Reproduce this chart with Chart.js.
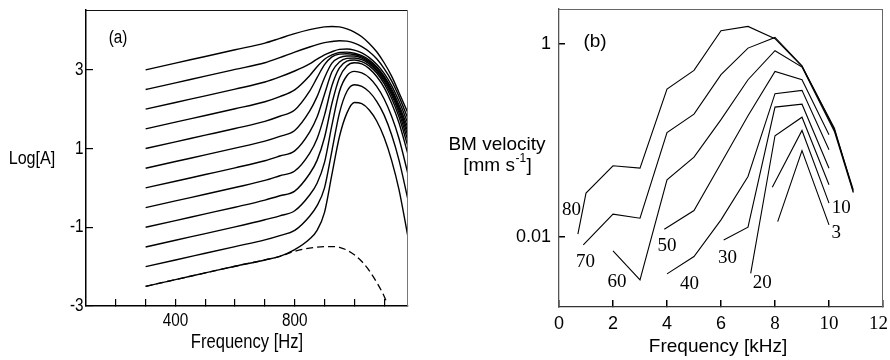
<!DOCTYPE html>
<html><head><meta charset="utf-8">
<script src="https://cdn.jsdelivr.net/npm/chart.js@4/dist/chart.umd.min.js"></script>
<style>
html,body{margin:0;padding:0;background:#fff;}
#wrap{position:relative;width:890px;height:360px;overflow:hidden;}
#ca{position:absolute;left:0;top:0;}
#cb{position:absolute;left:440px;top:0;}
</style></head><body>
<div id="wrap">
<canvas id="ca" width="440" height="360"></canvas>
<canvas id="cb" width="450" height="360"></canvas>
</div>
<script>
// ---------- Panel (a): Log[A] vs Frequency [Hz] ----------
const aFreq = [300,400,500,600,700,750,800,850,875,900,925,950,975,1000,1025,1050,1075,1100,1125,1150,1180];
const aLine0  = [3.00,3.17,3.34,3.51,3.68,3.80,3.92,4.02,4.06,4.09,4.10,4.09,4.04,3.96,3.84,3.67,3.46,3.18,2.84,2.42,1.90];
const aLine1  = [2.50,2.67,2.84,3.01,3.18,3.31,3.45,3.58,3.64,3.69,3.72,3.74,3.73,3.68,3.59,3.46,3.28,3.03,2.72,2.32,1.76];
const aLine2  = [2.00,2.17,2.34,2.51,2.69,2.82,2.97,3.15,3.27,3.38,3.46,3.52,3.53,3.50,3.43,3.31,3.14,2.91,2.60,2.20,1.64];
const aLine3  = [1.50,1.67,1.84,2.01,2.19,2.32,2.49,2.85,3.08,3.27,3.38,3.44,3.45,3.42,3.36,3.25,3.08,2.84,2.52,2.10,1.52];
const aLine4  = [1.00,1.17,1.34,1.51,1.69,1.82,1.98,2.46,2.80,3.13,3.33,3.40,3.41,3.39,3.33,3.22,3.05,2.80,2.47,2.04,1.42];
const aLine5  = [0.50,0.67,0.84,1.01,1.19,1.31,1.46,1.95,2.32,2.80,3.17,3.31,3.35,3.35,3.30,3.19,3.01,2.76,2.42,1.98,1.32];
const aLine6  = [0.00,0.17,0.34,0.51,0.69,0.81,0.94,1.42,1.80,2.38,2.95,3.20,3.29,3.30,3.26,3.15,2.97,2.71,2.36,1.90,1.20];
const aLine7  = [-0.50,-0.33,-0.16,0.01,0.19,0.31,0.43,0.88,1.25,1.85,2.60,3.05,3.22,3.25,3.21,3.10,2.92,2.65,2.28,1.80,1.05];
const aLine8  = [-1.00,-0.83,-0.66,-0.49,-0.31,-0.20,-0.08,0.36,0.70,1.28,2.15,2.80,3.10,3.18,3.15,3.03,2.83,2.55,2.15,1.65,0.85];
const aLine9  = [-1.50,-1.33,-1.16,-0.99,-0.81,-0.71,-0.58,-0.18,0.12,0.65,1.60,2.45,2.85,2.96,2.92,2.80,2.58,2.26,1.82,1.25,0.35];
const aLine10 = [-2.00,-1.83,-1.66,-1.49,-1.32,-1.21,-1.08,-0.72,-0.45,0.00,0.95,1.90,2.45,2.62,2.58,2.44,2.20,1.85,1.35,0.70,-0.30];
const aLine11 = [-2.50,-2.33,-2.16,-1.99,-1.83,-1.74,-1.57,-1.30,-1.08,-0.62,0.35,1.30,1.90,2.17,2.14,1.98,1.70,1.28,0.70,-0.05,-1.25];
const aDashFreq = [300,400,500,600,700,750,800,850,900,925,950,975,1000,1025,1050,1075,1100,1110];
const aDash     = [-2.50,-2.33,-2.16,-1.99,-1.83,-1.74,-1.61,-1.53,-1.49,-1.49,-1.51,-1.58,-1.70,-1.87,-2.10,-2.40,-2.75,-2.93];
const aXTickPos = [200,300,400,500,600,700,800,900,1000,1100];
const aXTickLabels = [400, 800];
const aYTicks = [-3,-1,1,3];

// ---------- Panel (b): BM velocity vs Frequency [kHz] ----------
const bLevels = ['80','70','60','50','40','30','20','10','3'];
const bF80 = [0.7,1,2,3,4,5,6,7,8,9,10.2,10.9];
const bV80 = [0.0106,0.0282,0.0542,0.0512,0.338,0.529,1.365,1.51,1.127,0.582,0.133,0.0293];
const bF70 = [0.9,2,3,4,5,6,7,8,9,10.2,10.9];
const bV70 = [0.0082,0.0171,0.0155,0.120,0.186,0.477,0.90,1.16,0.591,0.128,0.0305];
const bF60 = [2,3,4,5,6,7,8,9,10.2,10.9];
const bV60 = [0.0071,0.00355,0.0387,0.0666,0.163,0.423,0.846,0.573,0.123,0.0286];
const bF50 = [3.9,5,6,7,8,9,10];
const bV50 = [0.0119,0.0186,0.0577,0.179,0.516,0.423,0.1136];
const bF40 = [4,5,6,7,8,9,10];
const bV40 = [0.0041,0.0062,0.0149,0.042,0.303,0.328,0.0794];
const bF30 = [6.1,7,8,9,10];
const bV30 = [0.00923,0.0125,0.220,0.236,0.0512];
const bF20 = [7.1,8,9,10];
const bV20 = [0.00416,0.111,0.173,0.0344];
const bF10 = [7.9,9,10];
const bV10 = [0.0325,0.126,0.0222];
const bF3  = [8.1,9,10];
const bV3  = [0.0143,0.078,0.0132];
// where each level label sits (kHz, mm/s)
const bLabelF = [0.46,0.98,2.15,4.0,4.83,6.24,7.53,10.45,10.27];
const bLabelV = [0.0189,0.0055,0.0034,0.0079,0.0032,0.0060,0.0033,0.0197,0.011];
const bXTicks = [0,2,4,6,8,10,12];
const bYTicks = [0.01,1];

// ---------- helpers ----------
const SANS = "'Liberation Sans', Arial, sans-serif";
const SERIF = "'Liberation Serif', 'Times New Roman', serif";
const pts = (xs, ys) => xs.map((x, i) => ({x: x, y: ys[i]}));
const noPad = s => { s.paddingTop = 0; s.paddingBottom = 0; s.paddingLeft = 0; s.paddingRight = 0; };
function narrowText(ctx, str, x, y, align, size, sx) {
  ctx.save();
  ctx.translate(x, y); ctx.scale(sx, 1);
  ctx.textAlign = align; ctx.textBaseline = 'middle';
  ctx.font = size + "px " + SANS;
  ctx.fillText(str, 0, 0);
  ctx.restore();
}

const framePlugin = {
  id: 'frame',
  afterDraw(chart, args, o) {
    const {ctx, chartArea: a} = chart;
    ctx.save();
    ctx.lineWidth = 1;
    ctx.strokeStyle = o.top;
    ctx.beginPath(); ctx.moveTo(a.left, a.top + 0.5); ctx.lineTo(a.right, a.top + 0.5); ctx.stroke();
    ctx.strokeStyle = o.right;
    ctx.beginPath(); ctx.moveTo(a.right - 0.5, a.top); ctx.lineTo(a.right - 0.5, a.bottom); ctx.stroke();
    ctx.restore();
  }
};

// ---------- chart (a) ----------
const aLines = [aLine0,aLine1,aLine2,aLine3,aLine4,aLine5,aLine6,aLine7,aLine8,aLine9,aLine10,aLine11];
const aSets = aLines.map(l => ({
  data: pts(aFreq, l), borderColor: '#000', borderWidth: 1.4,
  cubicInterpolationMode: 'monotone', pointRadius: 0, fill: false
}));
aSets.push({data: pts(aDashFreq, aDash), borderColor: '#000', borderWidth: 1.3,
  borderDash: [7, 4], cubicInterpolationMode: 'monotone', pointRadius: 0, fill: false});

const textA = {
  id: 'textA',
  afterDraw(chart) {
    const ctx = chart.ctx;
    const sx = chart.scales.x, sy = chart.scales.y;
    ctx.save();
    ctx.fillStyle = '#000';
    aXTickLabels.forEach(v => narrowText(ctx, String(v), sx.getPixelForValue(v), 321, 'center', 18, 0.85));
    aYTicks.forEach(v => narrowText(ctx, String(v), 83.5, sy.getPixelForValue(v), 'right', 18, 0.85));
    narrowText(ctx, '(a)', 118, 38, 'center', 18, 0.85);
    narrowText(ctx, 'Log[A]', 32, 159, 'center', 19, 0.85);
    narrowText(ctx, 'Frequency [Hz]', 247, 343, 'center', 19.5, 0.85);
    ctx.restore();
  }
};

new Chart(document.getElementById('ca'), {
  type: 'line',
  data: {datasets: aSets},
  options: {
    responsive: false, animation: false, events: [],
    layout: {padding: {left: 0, top: 10, right: 32, bottom: 0}},
    plugins: {legend: {display: false}, tooltip: {enabled: false},
      frame: {top: '#111', right: '#777'}},
    scales: {
      x: {
        type: 'linear', min: 100, max: 1180,
        afterFit: s => { s.height = 54; noPad(s); },
        afterBuildTicks: s => { s.ticks = aXTickPos.map(v => ({value: v})); },
        ticks: {display: false},
        grid: {drawOnChartArea: false, tickLength: -7, color: '#000', lineWidth: 1.2},
        border: {color: '#000', width: 1.5}
      },
      y: {
        type: 'linear', min: -3, max: 4.52,
        afterFit: s => { s.width = 86; noPad(s); },
        afterBuildTicks: s => { s.ticks = aYTicks.map(v => ({value: v})); },
        ticks: {display: false},
        grid: {drawOnChartArea: false, tickLength: -7, color: '#000', lineWidth: 1.2},
        border: {color: '#000', width: 1.5}
      }
    }
  },
  plugins: [framePlugin, textA]
});

// ---------- chart (b) ----------
const bF = [bF80,bF70,bF60,bF50,bF40,bF30,bF20,bF10,bF3];
const bV = [bV80,bV70,bV60,bV50,bV40,bV30,bV20,bV10,bV3];
const bSets = bF.map((f, i) => ({
  data: pts(f, bV[i]), borderColor: '#000', borderWidth: 1.1,
  tension: 0, pointRadius: 0, fill: false
}));

const textB = {
  id: 'textB',
  afterDraw(chart) {
    const ctx = chart.ctx;
    const sx = chart.scales.x, sy = chart.scales.y;
    const W = chart.width;
    ctx.save();
    ctx.fillStyle = '#000';
    ctx.textAlign = 'center'; ctx.textBaseline = 'middle';
    // x tick labels (kept inside the canvas)
    bXTicks.forEach(v => {
      ctx.font = v >= 8 ? ("19px " + SERIF) : ("18px " + SANS);
      const w = ctx.measureText(String(v)).width;
      let cx = sx.getPixelForValue(v);
      if (cx + w / 2 > W - 2) cx = W - 2 - w / 2;
      ctx.fillText(String(v), cx, 324);
    });
    ctx.font = "19px " + SANS;
    ctx.fillText('(b)', 155, 42);
    ctx.fillText('BM velocity', 57, 145);
    ctx.fillText('Frequency [kHz]', 278, 347);
    // [mm s^-1]
    const p1 = '[mm s', p2 = '-1', p3 = ']';
    ctx.font = "19px " + SANS; const w1 = ctx.measureText(p1).width, w3 = ctx.measureText(p3).width;
    ctx.font = "12px " + SANS; const w2 = ctx.measureText(p2).width;
    let x0 = 57 - (w1 + w2 + w3) / 2;
    ctx.textAlign = 'left';
    ctx.font = "19px " + SANS; ctx.fillText(p1, x0, 166);
    ctx.font = "12px " + SANS; ctx.fillText(p2, x0 + w1 + 0.5, 159);
    ctx.font = "19px " + SANS; ctx.fillText(p3, x0 + w1 + w2 + 1, 166);
    // level labels
    ctx.textAlign = 'center';
    ctx.font = "19px " + SERIF;
    bLevels.forEach((t, i) => {
      ctx.fillText(t, sx.getPixelForValue(bLabelF[i]), sy.getPixelForValue(bLabelV[i]));
    });
    ctx.restore();
  }
};

new Chart(document.getElementById('cb'), {
  type: 'line',
  data: {datasets: bSets},
  options: {
    responsive: false, animation: false, events: [],
    layout: {padding: {left: 0, top: 9, right: 7, bottom: 0}},
    plugins: {legend: {display: false}, tooltip: {enabled: false},
      frame: {top: '#666', right: '#666'}},
    scales: {
      x: {
        type: 'linear', min: 0, max: 12,
        afterFit: s => { s.height = 53; noPad(s); },
        afterBuildTicks: s => { s.ticks = bXTicks.map(v => ({value: v})); },
        ticks: {display: false},
        grid: {drawOnChartArea: false, tickLength: -7, color: '#000', lineWidth: 1.5},
        border: {color: '#333', width: 1.3}
      },
      y: {
        type: 'logarithmic', min: 0.00186, max: 2.29,
        afterFit: s => { s.width = 119; noPad(s); },
        afterBuildTicks: s => { s.ticks = bYTicks.map(v => ({value: v})); },
        ticks: {autoSkip: false, color: '#000', padding: 14,
          font: {family: SANS, size: 18},
          callback: v => String(v)},
        grid: {drawOnChartArea: false, tickLength: -6, color: '#000', lineWidth: 1.5},
        border: {color: '#555', width: 1.3}
      }
    }
  },
  plugins: [framePlugin, textB]
});
</script>
</body></html>
